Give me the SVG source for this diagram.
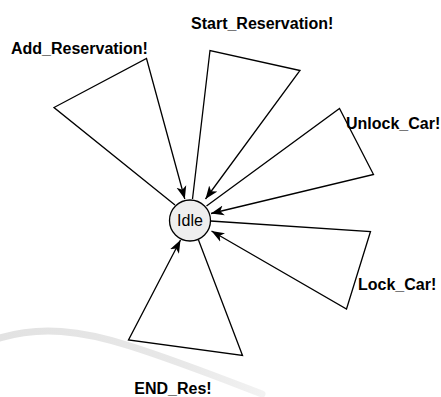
<svg xmlns="http://www.w3.org/2000/svg" width="441" height="397" viewBox="0 0 441 397">
<style>
.edge{fill:none;stroke:#000;stroke-width:1.3}
.lbl{font-family:"Liberation Sans",Arial,sans-serif;font-weight:bold;font-size:16px;fill:#000}
.state{fill:#eeeeee;stroke:#000;stroke-width:1.3}
.name{font-family:"Liberation Sans",Arial,sans-serif;font-size:16px;fill:#000}
</style>
<defs>
<marker id="arr" markerUnits="userSpaceOnUse" markerWidth="14" markerHeight="11" refX="13" refY="5.5" orient="auto" viewBox="0 0 14 11">
<path d="M0,0.5 L13,5.5 L0,10.5 L3.5,5.5 Z" fill="#000"/>
</marker>
<linearGradient id="sw" x1="0" y1="0" x2="1" y2="0">
<stop offset="0" stop-color="#e2e2e2"/>
<stop offset="0.7" stop-color="#e8e8e8"/>
<stop offset="1" stop-color="#f2f2f2"/>
</linearGradient>
</defs>
<path d="M0,338 C40,326 80,330 130,346 C180,362 220,378 262,394" fill="none" stroke="url(#sw)" stroke-width="7" stroke-linecap="round"/>
<g id="connectors">
<path class="edge" d="M175,205 L54,107.5 L146.5,58.5 L184.8,199" marker-end="url(#arr)"/>
<path class="edge" d="M192.5,199 L210,50.5 L300,70.5 L205.5,199" marker-end="url(#arr)"/>
<path class="edge" d="M206.5,206 L339.5,108.5 L373.5,174.5 L211,213.5" marker-end="url(#arr)"/>
<path class="edge" d="M210.5,221 L370.5,231.5 L346.5,309 L211.5,231" marker-end="url(#arr)"/>
<path class="edge" d="M198.5,240 L242.5,355.5 L128.5,340 L180.5,240" marker-end="url(#arr)"/>
</g>
<g id="Idle">
<circle class="state" cx="190" cy="220.5" r="20.5"/>
<text class="name" x="190" y="226" text-anchor="middle">Idle</text>
</g>
<g id="label-add"><text class="lbl" x="11" y="54">Add_Reservation!</text></g>
<g id="label-start"><text class="lbl" x="191" y="29">Start_Reservation!</text></g>
<g id="label-unlock"><text class="lbl" x="346" y="129">Unlock_Car!</text></g>
<g id="label-lock"><text class="lbl" x="358" y="290">Lock_Car!</text></g>
<g id="label-end"><text class="lbl" x="173" y="394" text-anchor="middle">END_Res!</text></g>
</svg>
